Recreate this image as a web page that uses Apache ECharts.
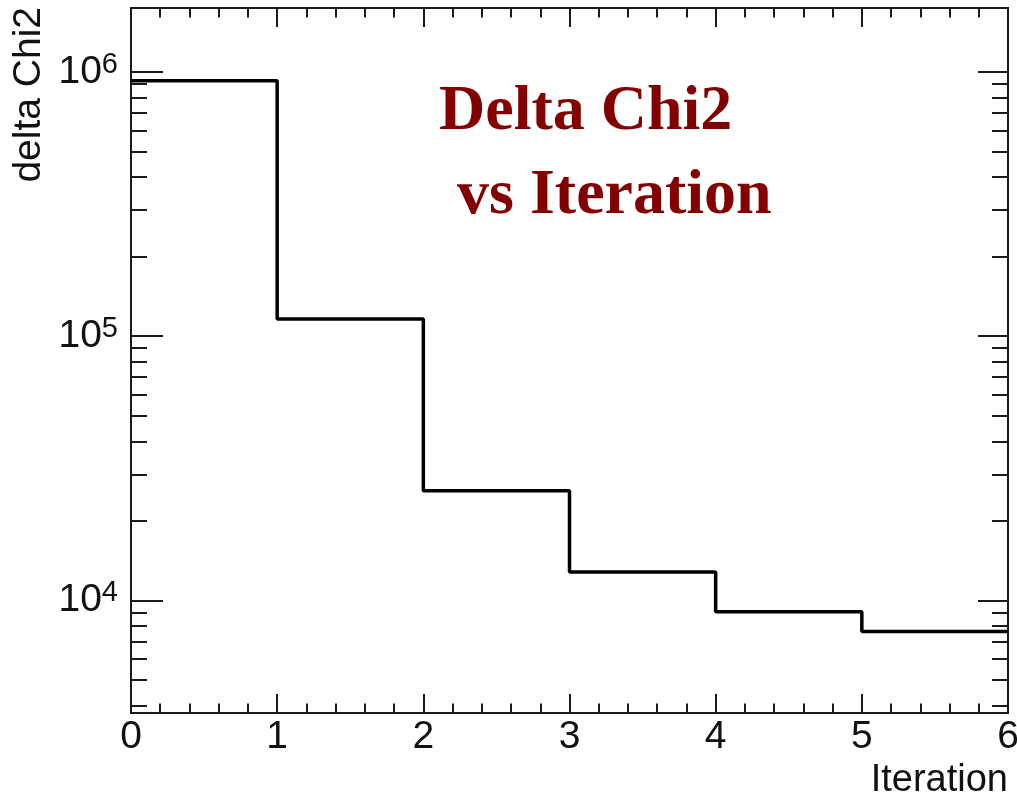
<!DOCTYPE html>
<html>
<head>
<meta charset="utf-8">
<title>Delta Chi2 vs Iteration</title>
<script src="https://cdn.jsdelivr.net/npm/echarts@6/dist/echarts.min.js"></script>
<style>
  html, body { margin: 0; padding: 0; background: #fff; }
  #chart { width: 1017px; height: 800px; }
</style>
</head>
<body>
<div id="chart"></div>
<script>
// Histogram bins: lower edge of each iteration bin and its delta chi2 content
const iterations = [0, 1, 2, 3, 4, 5];
const binUpperEdge = 6;
const deltaChi2 = [925000, 116000, 26000, 12800, 9050, 7620];

// Axis ranges
const xRange = [0, 6];
const yRange = [3750, 1743000];

// Log axis decorations: labelled decades and the 2..9 sub-ticks between them
const majorTicks = [1e4, 1e5, 1e6];
const decadeStarts = [1e3, 1e4, 1e5, 1e6];
const subMultipliers = [2, 3, 4, 5, 6, 7, 8, 9];
const minorTicks = [];
decadeStarts.forEach(d => subMultipliers.forEach(m => {
  const v = d * m;
  if (v >= yRange[0] && v <= yRange[1]) minorTicks.push(v);
}));

const titleLines = ['Delta Chi2', 'vs Iteration'];
const xTitle = 'Iteration';
const yTitle = 'delta Chi2';

// Step outline points: one per bin plus the closing upper edge
const stepPoints = iterations.map((x, i) => [x, deltaChi2[i]]);
stepPoints.push([binUpperEdge, deltaChi2[deltaChi2.length - 1]]);

const frameColor = '#1a1a1a';
const labelFont = 'Liberation Sans';

function yAxisDef(position, ticks, len, withLabels) {
  return {
    type: 'log',
    logBase: 10,
    position: position,
    min: yRange[0],
    max: yRange[1],
    axisLine: { show: true, lineStyle: { color: frameColor, width: 2 } },
    axisTick: {
      show: true, inside: true, length: len, customValues: ticks,
      lineStyle: { color: frameColor, width: 2 }
    },
    axisLabel: withLabels ? {
      show: true,
      customValues: majorTicks,
      margin: 13,
      color: '#111',
      fontFamily: labelFont,
      fontSize: 39,
      formatter: v => '10{sup|' + Math.round(Math.log10(v)) + '}',
      rich: {
        sup: { fontSize: 29, fontFamily: labelFont, color: '#111', padding: [0, 0, 14, 0] }
      }
    } : { show: false },
    splitLine: { show: false },
    minorTick: { show: false },
    minorSplitLine: { show: false }
  };
}

function xAxisDef(position, withLabels) {
  return {
    type: 'value',
    position: position,
    min: xRange[0],
    max: xRange[1],
    interval: 1,
    axisLine: { show: true, onZero: false, lineStyle: { color: frameColor, width: 2 } },
    axisTick: { show: true, inside: true, length: 19, lineStyle: { color: frameColor, width: 2 } },
    minorTick: { show: true, splitNumber: 5, length: 9.5, lineStyle: { color: frameColor, width: 2 } },
    axisLabel: withLabels ? {
      show: true, margin: 5, color: '#111', fontFamily: labelFont, fontSize: 39
    } : { show: false },
    splitLine: { show: false },
    minorSplitLine: { show: false }
  };
}

const chart = echarts.init(document.getElementById('chart'), null, { renderer: 'canvas' });
chart.setOption({
  animation: false,
  backgroundColor: '#fff',
  grid: { left: 131, right: 9, top: 8, bottom: 87, containLabel: false, outerBoundsMode: 'none' },
  xAxis: [xAxisDef('bottom', true), xAxisDef('top', false)],
  yAxis: [
    yAxisDef('left', majorTicks, 32, true),
    yAxisDef('left', minorTicks, 16, false),
    yAxisDef('right', majorTicks, 30, false),
    yAxisDef('right', minorTicks, 16, false)
  ],
  series: [{
    type: 'line',
    xAxisIndex: 0,
    yAxisIndex: 0,
    step: 'end',
    data: stepPoints,
    showSymbol: false,
    symbol: 'none',
    lineStyle: { color: '#000', width: 3.5 },
    z: 5
  }],
  graphic: [
    {
      type: 'text', x: 439, y: 112,
      style: {
        text: titleLines[0], fill: '#820000',
        font: 'bold 64px "Liberation Serif"', textAlign: 'left', textVerticalAlign: 'middle'
      }
    },
    {
      type: 'text', x: 457, y: 196,
      style: {
        text: titleLines[1], fill: '#820000',
        font: 'bold 64px "Liberation Serif"', textAlign: 'left', textVerticalAlign: 'middle'
      }
    },
    {
      type: 'text', x: 1008, y: 781,
      style: {
        text: xTitle, fill: '#111',
        font: '38px "Liberation Sans"', textAlign: 'right', textVerticalAlign: 'middle'
      }
    },
    {
      type: 'text', x: 29, y: 7, rotation: Math.PI / 2,
      style: {
        text: yTitle, fill: '#111',
        font: '39px "Liberation Sans"', textAlign: 'right', textVerticalAlign: 'middle'
      }
    }
  ]
});
</script>
</body>
</html>
